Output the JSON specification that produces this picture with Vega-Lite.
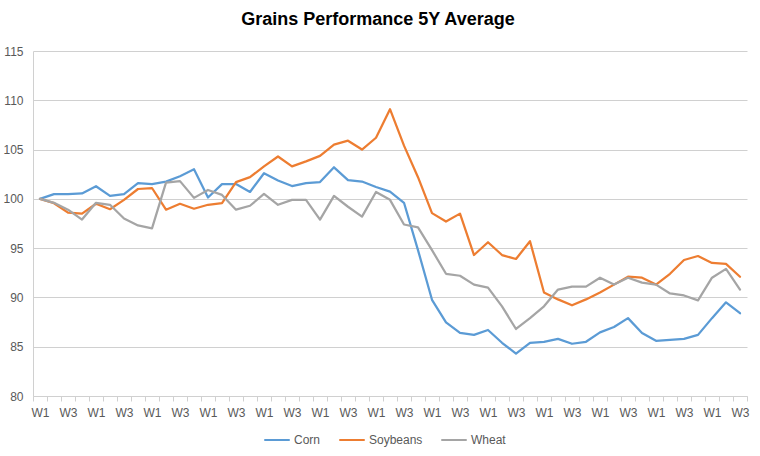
{
  "$schema": "https://vega.github.io/schema/vega-lite/v6.json",
  "autosize": {"type": "none"},
  "width": 714,
  "height": 345,
  "padding": {"left": 33, "top": 51, "right": 13, "bottom": 60},
  "background": "white",
  "title": {
    "text": "Grains Performance 5Y Average",
    "font": "Liberation Sans",
    "fontSize": 18,
    "fontWeight": "bold",
    "color": "#000000",
    "anchor": "middle",
    "dx": -12,
    "offset": 16
  },
  "data": {
    "values": [
      {"t": 0, "Corn": 100.0, "Soybeans": 100.0, "Wheat": 100.0},
      {"t": 1, "Corn": 100.48, "Soybeans": 99.56, "Wheat": 99.6},
      {"t": 2, "Corn": 100.48, "Soybeans": 98.6, "Wheat": 98.9},
      {"t": 3, "Corn": 100.55, "Soybeans": 98.5, "Wheat": 97.9},
      {"t": 4, "Corn": 101.28, "Soybeans": 99.5, "Wheat": 99.6},
      {"t": 5, "Corn": 100.3, "Soybeans": 98.95, "Wheat": 99.4},
      {"t": 6, "Corn": 100.48, "Soybeans": 99.9, "Wheat": 98.0},
      {"t": 7, "Corn": 101.6, "Soybeans": 101.0, "Wheat": 97.3},
      {"t": 8, "Corn": 101.5, "Soybeans": 101.1, "Wheat": 97.0},
      {"t": 9, "Corn": 101.75, "Soybeans": 98.9, "Wheat": 101.65},
      {"t": 10, "Corn": 102.3, "Soybeans": 99.5, "Wheat": 101.8},
      {"t": 11, "Corn": 103.0, "Soybeans": 99.0, "Wheat": 100.1},
      {"t": 12, "Corn": 100.14, "Soybeans": 99.4, "Wheat": 100.9},
      {"t": 13, "Corn": 101.5, "Soybeans": 99.56, "Wheat": 100.4},
      {"t": 14, "Corn": 101.5, "Soybeans": 101.7, "Wheat": 98.9},
      {"t": 15, "Corn": 100.7, "Soybeans": 102.2, "Wheat": 99.3},
      {"t": 16, "Corn": 102.6, "Soybeans": 103.3, "Wheat": 100.5},
      {"t": 17, "Corn": 101.86, "Soybeans": 104.3, "Wheat": 99.4},
      {"t": 18, "Corn": 101.3, "Soybeans": 103.3, "Wheat": 99.9},
      {"t": 19, "Corn": 101.6, "Soybeans": 103.8, "Wheat": 99.9},
      {"t": 20, "Corn": 101.7, "Soybeans": 104.36, "Wheat": 97.9},
      {"t": 21, "Corn": 103.2, "Soybeans": 105.5, "Wheat": 100.3},
      {"t": 22, "Corn": 101.9, "Soybeans": 105.9, "Wheat": 99.2},
      {"t": 23, "Corn": 101.76, "Soybeans": 105.0, "Wheat": 98.2},
      {"t": 24, "Corn": 101.2, "Soybeans": 106.2, "Wheat": 100.7},
      {"t": 25, "Corn": 100.74, "Soybeans": 109.1, "Wheat": 99.9},
      {"t": 26, "Corn": 99.6, "Soybeans": 105.4, "Wheat": 97.4},
      {"t": 27, "Corn": 94.8, "Soybeans": 102.2, "Wheat": 97.1},
      {"t": 28, "Corn": 89.76, "Soybeans": 98.55, "Wheat": 94.8},
      {"t": 29, "Corn": 87.47, "Soybeans": 97.7, "Wheat": 92.4},
      {"t": 30, "Corn": 86.4, "Soybeans": 98.5, "Wheat": 92.2},
      {"t": 31, "Corn": 86.2, "Soybeans": 94.3, "Wheat": 91.3},
      {"t": 32, "Corn": 86.7, "Soybeans": 95.6, "Wheat": 91.0},
      {"t": 33, "Corn": 85.4, "Soybeans": 94.3, "Wheat": 89.1},
      {"t": 34, "Corn": 84.3, "Soybeans": 93.9, "Wheat": 86.8},
      {"t": 35, "Corn": 85.4, "Soybeans": 95.7, "Wheat": 87.9},
      {"t": 36, "Corn": 85.5, "Soybeans": 90.5, "Wheat": 89.1},
      {"t": 37, "Corn": 85.8, "Soybeans": 89.8, "Wheat": 90.8},
      {"t": 38, "Corn": 85.3, "Soybeans": 89.2, "Wheat": 91.1},
      {"t": 39, "Corn": 85.5, "Soybeans": 89.8, "Wheat": 91.1},
      {"t": 40, "Corn": 86.45, "Soybeans": 90.5, "Wheat": 92.0},
      {"t": 41, "Corn": 87.0, "Soybeans": 91.3, "Wheat": 91.3},
      {"t": 42, "Corn": 87.9, "Soybeans": 92.1, "Wheat": 92.0},
      {"t": 43, "Corn": 86.4, "Soybeans": 92.0, "Wheat": 91.5},
      {"t": 44, "Corn": 85.6, "Soybeans": 91.3, "Wheat": 91.3},
      {"t": 45, "Corn": 85.7, "Soybeans": 92.4, "Wheat": 90.4},
      {"t": 46, "Corn": 85.8, "Soybeans": 93.8, "Wheat": 90.2},
      {"t": 47, "Corn": 86.2, "Soybeans": 94.2, "Wheat": 89.7},
      {"t": 48, "Corn": 87.9, "Soybeans": 93.5, "Wheat": 92.0},
      {"t": 49, "Corn": 89.5, "Soybeans": 93.4, "Wheat": 92.9},
      {"t": 50, "Corn": 88.4, "Soybeans": 92.1, "Wheat": 90.8}
    ]
  },
  "transform": [
    {"fold": ["Corn", "Soybeans", "Wheat"], "as": ["series", "value"]}
  ],
  "mark": {"type": "line", "strokeWidth": 2.25, "strokeJoin": "round", "strokeCap": "round"},
  "encoding": {
    "x": {
      "field": "t",
      "type": "ordinal",
      "scale": {"type": "band", "paddingInner": 0, "paddingOuter": 0},
      "axis": {
        "title": null,
        "labelAngle": 0,
        "labelOverlap": false,
        "labelExpr": "datum.value % 4 == 0 ? 'W1' : (datum.value % 4 == 2 ? 'W3' : '')",
        "tickBand": "extent",
        "tickColor": "#D0D0D0",
        "tickSize": 5,
        "domainColor": "#D0D0D0",
        "labelFont": "Liberation Sans",
        "labelFontSize": 12,
        "labelColor": "#595959",
        "labelPadding": 6,
        "grid": false
      }
    },
    "y": {
      "field": "value",
      "type": "quantitative",
      "scale": {"domain": [80, 115], "nice": false, "zero": false},
      "axis": {
        "title": null,
        "values": [80, 85, 90, 95, 100, 105, 110, 115],
        "ticks": false,
        "labelPadding": 10,
        "labelFont": "Liberation Sans",
        "labelFontSize": 12,
        "labelColor": "#595959",
        "domainColor": "#D0D0D0",
        "gridColor": "#D0D0D0",
        "gridWidth": 1
      }
    },
    "color": {
      "field": "series",
      "type": "nominal",
      "scale": {"domain": ["Corn", "Soybeans", "Wheat"], "range": ["#5B9BD5", "#ED7D31", "#A5A5A5"]},
      "legend": {
        "title": null,
        "orient": "none",
        "direction": "horizontal",
        "legendX": 230,
        "legendY": 375,
        "symbolType": "stroke",
        "symbolSize": 650,
        "symbolStrokeWidth": 2,
        "labelFont": "Liberation Sans",
        "labelFontSize": 12,
        "labelColor": "#595959",
        "columnPadding": 14,
        "labelOffset": 3
      }
    }
  },
  "config": {"view": {"stroke": null}}
}
